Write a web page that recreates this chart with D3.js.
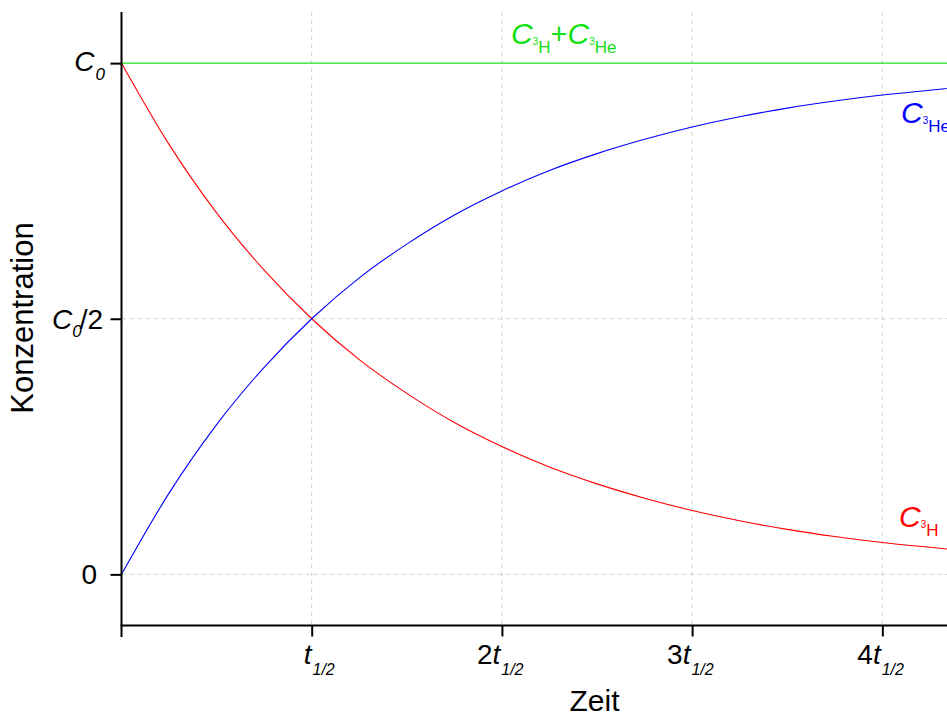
<!DOCTYPE html>
<html><head><meta charset="utf-8">
<script src="https://cdn.jsdelivr.net/npm/d3@7"></script>
<style>body{margin:0;background:#fff;} text{font-family:"Liberation Sans",Arial,sans-serif;}</style>
</head><body>
<svg id="c" width="947" height="716"></svg>
<script>
// time in half-lives
const times = [0,0.25,0.5,0.75,1,1.25,1.5,1.75,2,2.25,2.5,2.75,3,3.25,3.5,3.75,4,4.25,4.5];
// fraction of C0 remaining (3H)
const tritium = [1,0.841,0.707,0.595,0.5,0.42,0.354,0.297,0.25,0.21,0.177,0.149,0.125,0.105,0.088,0.074,0.0625,0.053,0.044];
// fraction of C0 grown in (3He)
const helium = [0,0.159,0.293,0.405,0.5,0.58,0.646,0.703,0.75,0.79,0.823,0.851,0.875,0.895,0.912,0.926,0.9375,0.947,0.956];
const total = [1,1,1,1,1,1,1,1,1,1,1,1,1,1,1,1,1,1,1];
const xTicks = [1,2,3,4];
const xTickPrefix = ["","2","3","4"];
const yTicks = [0,0.5,1];

const svg = d3.select("#c");
const x = d3.scaleLinear().domain([0,4.34]).range([121.5,947]);
const y = d3.scaleLinear().domain([-0.1,1.1]).range([625.5,12]);

// grid
const grid = svg.append("g").attr("stroke","#cfcfcf").attr("stroke-dasharray","4,4").attr("stroke-width",1);
grid.selectAll("line.v").data(xTicks).join("line")
  .attr("x1",d=>x(d)).attr("x2",d=>x(d)).attr("y1",y(1.1)).attr("y2",y(-0.1));
grid.selectAll("line.h").data([0,0.5]).join("line")
  .attr("x1",x(0)).attr("x2",947).attr("y1",d=>y(d)).attr("y2",d=>y(d));

const line = d3.line().x((d,i)=>x(times[i])).y(d=>y(d)).curve(d3.curveMonotoneX);
svg.append("path").datum(total).attr("d",line).attr("fill","none").attr("stroke","#22dd22").attr("stroke-width",1.3);
svg.append("path").datum(tritium).attr("d",line).attr("fill","none").attr("stroke","#ff0000").attr("stroke-width",1.1);
svg.append("path").datum(helium).attr("d",line).attr("fill","none").attr("stroke","#0000ff").attr("stroke-width",1.1);

// axes
const yAx = svg.append("g").attr("transform",`translate(${x(0)},0)`)
  .call(d3.axisLeft(y).tickValues(yTicks).tickSize(11).tickFormat(""));
yAx.select(".domain").remove();
yAx.selectAll("line").attr("stroke","#000").attr("stroke-width",2);
const xAx = svg.append("g").attr("transform",`translate(0,${y(-0.1)})`)
  .call(d3.axisBottom(x).tickValues(xTicks).tickSize(11).tickFormat(""));
xAx.select(".domain").remove();
xAx.selectAll("line").attr("stroke","#000").attr("stroke-width",2);
svg.append("line").attr("x1",x(0)).attr("x2",x(0)).attr("y1",y(1.1)).attr("y2",y(-0.1)+11.5).attr("stroke","#000").attr("stroke-width",2);
svg.append("line").attr("x1",x(0)-1).attr("x2",947).attr("y1",y(-0.1)).attr("y2",y(-0.1)).attr("stroke","#000").attr("stroke-width",2);

// y tick labels
const fs = 28;
svg.append("text").attr("x",97).attr("y",y(0)+10).attr("text-anchor","end").attr("font-size",fs).text("0");
const t1 = svg.append("text").attr("x",103).attr("y",y(0.5)+10).attr("text-anchor","end").attr("font-size",fs);
t1.append("tspan").attr("font-style","italic").text("C");
t1.append("tspan").attr("font-style","italic").attr("font-size",17).attr("dy",8).text("0");
t1.append("tspan").attr("dy",-8).attr("dx",-2).text("/2");
const t2 = svg.append("text").attr("x",105).attr("y",y(1)+8).attr("text-anchor","end").attr("font-size",fs);
t2.append("tspan").attr("font-style","italic").text("C");
t2.append("tspan").attr("font-style","italic").attr("font-size",17).attr("dy",9).attr("dx",1).text("0");

// x tick labels
xTicks.forEach((v,i)=>{
  const t = svg.append("text").attr("y",664).attr("font-size",fs)
    .attr("x", x(v) - (i===0?8:25));
  if (xTickPrefix[i]) t.append("tspan").text(xTickPrefix[i]);
  t.append("tspan").attr("font-style","italic").text("t");
  t.append("tspan").attr("font-style","italic").attr("font-size",16).attr("dy",11).attr("dx",1).text("1/2");
});

// axis titles
svg.append("text").attr("x",594.5).attr("y",711).attr("text-anchor","middle").attr("font-size",30).text("Zeit");
svg.append("text").attr("transform","translate(33,318) rotate(-90)").attr("text-anchor","middle").attr("font-size",31).text("Konzentration");

// series labels
function label(xp, yp, color, parts){
  const t = svg.append("text").attr("x",xp).attr("y",yp).attr("fill",color).attr("font-size",30);
  parts.forEach(p=>{
    const s = t.append("tspan").text(p.t).attr("font-size",p.fs).attr("dy",p.dy||0);
    if (p.it) s.attr("font-style","italic");
  });
}
const sub = (el)=>[{t:"C",fs:30,it:true,dy:0},{t:"3",fs:10,dy:1},{t:el,fs:17,dy:8}];
label(511,43.5,"#11e011",[...sub("H"),{t:"+",fs:29,dy:-9},...sub("He")]);
label(901,123,"#0000ff",sub("He"));
label(899,527,"#ff0000",sub("H"));
</script>
</body></html>
